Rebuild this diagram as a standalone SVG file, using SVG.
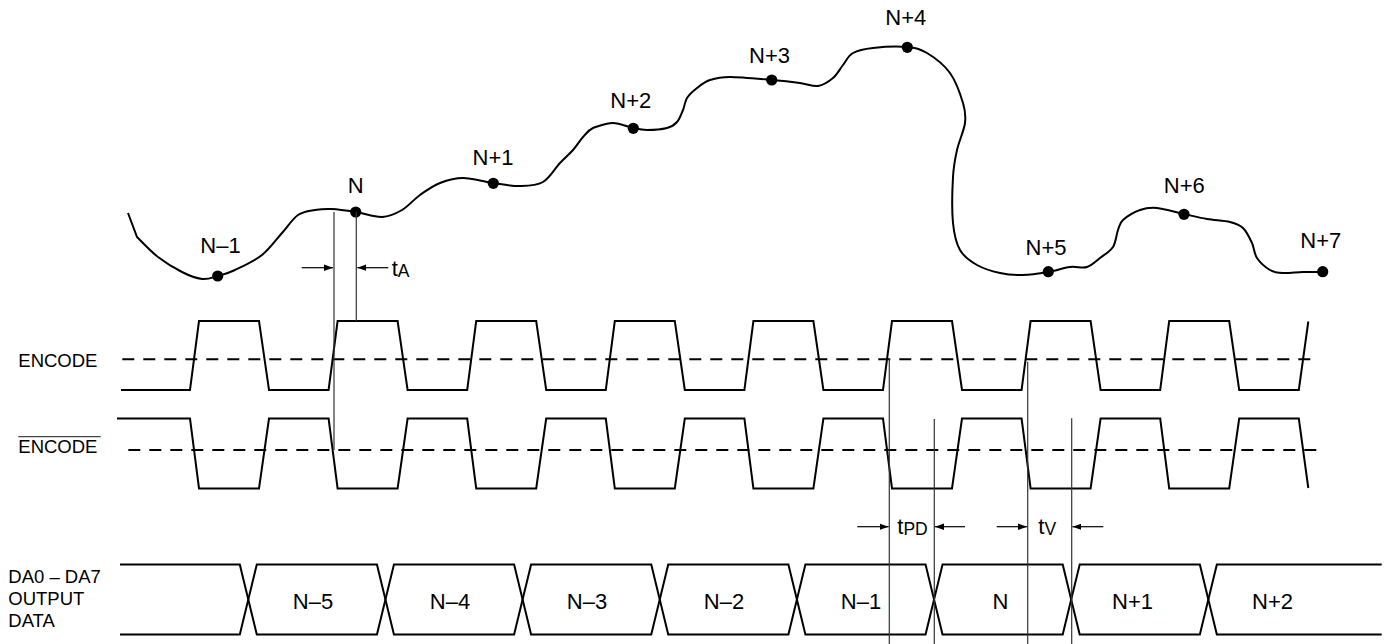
<svg xmlns="http://www.w3.org/2000/svg" width="1389" height="644" viewBox="0 0 1389 644">
<style>
text{font-family:"Liberation Sans",Arial,sans-serif;fill:#000}
.lbl{font-size:18.5px}
.nl{font-size:22px;text-anchor:middle}
.wave{fill:none;stroke:#000;stroke-width:2;stroke-linejoin:miter}
.dash{fill:none;stroke:#000;stroke-width:2;stroke-dasharray:12 9}
.guide{fill:none;stroke:#333;stroke-width:1.2}
.arr{fill:none;stroke:#000;stroke-width:1.2;marker-end:url(#ah)}
.tm{font-size:22px}
.sub{font-size:17.5px}
</style>
<defs>
<marker id="ah" markerUnits="userSpaceOnUse" markerWidth="10" markerHeight="8" refX="9" refY="4" orient="auto">
<path d="M0,0.8 L9,4 L0,7.2 Z" fill="#000"/>
</marker>
</defs>
<g id="analog-input">
<path class="wave" d="M128,213 L137,237 C140.5,240.3 150.5,251.2 158,257 C165.5,262.8 174.7,268.3 182,272 C189.3,275.7 196,278.3 202,279 C208,279.7 212.5,277.5 218,276 C223.5,274.5 227.7,273.5 235,270 C242.3,266.5 254.2,261.2 262,255 C269.8,248.8 276,239.7 282,233 C288,226.3 292.5,218.8 298,215 C303.5,211.2 309.3,211 315,210 C320.7,209 325.2,208.7 332,209 C338.8,209.3 347.7,210.7 356,212 C364.3,213.3 374.3,217.3 382,217 C389.7,216.7 395.7,213.7 402,210 C408.3,206.3 413.7,199.5 420,195 C426.3,190.5 432.8,185.8 440,183 C447.2,180.2 454.2,178 463,178 C471.8,178 483.5,181.7 493,183 C502.5,184.3 511.7,186.2 520,186 C528.3,185.8 536.3,185.8 543,182 C549.7,178.2 555,168.3 560,163 C565,157.7 569.2,154.3 573,150 C576.8,145.7 579.7,140.7 583,137 C586.3,133.3 588,130.3 593,128 C599.7,125.7 606.3,123 613,123 C619.7,123 627.3,126.8 633,128 C638.7,129.2 641.3,130 647,130 C652.7,130 662,129.3 667,128 C672,126.7 674.3,125 677,122 C679.7,119 681.3,114 683,110 C684.7,106 684.7,101.7 687,98 C689.3,94.3 693.2,91 697,88 C700.8,85 704.5,81.8 710,80 C715.5,78.2 719.7,77 730,77 C740.3,77 760.3,79 772,80 C783.7,81 792.3,82 800,83 C807.7,84 812.5,86.8 818,86 C823.5,85.2 828.8,81.5 833,78 C837.2,74.5 839.7,69.2 843,65 C846.3,60.8 848,55.8 853,53 C858,50.2 864,49 873,48 C882,47 898,46.2 907,47 C916,47.8 919.8,48.7 927,53 C934.2,57.3 944,64.7 950,73 C956,81.3 960.5,94.7 963,103 C965.5,111.3 966,115.2 965,123 C964,130.8 959,141 957,150 C955,159 953.7,164.8 953,177 C952.3,189.2 951.8,210.8 953,223 C954.2,235.2 956,243 960,250 C964,257 970.3,261.2 977,265 C983.7,268.8 992.3,271.3 1000,273 C1007.7,274.7 1015,275.2 1023,275 C1031,274.8 1040.2,273.3 1048,272 C1055.8,270.7 1063.5,267.8 1070,267 C1076.5,266.2 1082,268.5 1087,267 C1092,265.5 1095.7,261.3 1100,258 C1104.3,254.7 1110,251.7 1113,247 C1116,242.3 1116.3,234.5 1118,230 C1119.7,225.5 1119.3,223.3 1123,220 C1126.7,216.7 1134.3,212 1140,210 C1145.7,208 1149.7,207.3 1157,208 C1164.3,208.7 1175.7,212.2 1184,214 C1192.3,215.8 1199.3,217.7 1207,219 C1214.7,220.3 1224,220.5 1230,222 C1236,223.5 1239.3,224.5 1243,228 C1246.7,231.5 1249.7,238 1252,243 C1254.3,248 1254,253.5 1257,258 C1260,262.5 1265.7,267.5 1270,270 C1274.3,272.5 1277.5,272.7 1283,273 C1288.5,273.3 1296.3,272.2 1303,272 C1309.7,271.8 1319.7,272 1323,272"/>
</g>
<g id="samples">
<circle cx="217.7" cy="276" r="5.6"/>
<circle cx="355.7" cy="212" r="5.6"/>
<circle cx="493.3" cy="183.3" r="5.6"/>
<circle cx="633.3" cy="128.3" r="5.6"/>
<circle cx="771.7" cy="80" r="5.6"/>
<circle cx="907.3" cy="47.3" r="5.6"/>
<circle cx="1048.3" cy="271.7" r="5.6"/>
<circle cx="1184" cy="214.3" r="5.6"/>
<circle cx="1322.7" cy="271.7" r="5.6"/>
<text class="nl" x="220.5" y="252.7">N–1</text>
<text class="nl" x="355.7" y="192.7">N</text>
<text class="nl" x="493" y="165">N+1</text>
<text class="nl" x="630.8" y="108.3">N+2</text>
<text class="nl" x="769.5" y="62.7">N+3</text>
<text class="nl" x="905.8" y="25">N+4</text>
<text class="nl" x="1046" y="255">N+5</text>
<text class="nl" x="1184.3" y="192.7">N+6</text>
<text class="nl" x="1320.8" y="248.3">N+7</text>
</g>
<g id="encode">
<text class="lbl" x="18.3" y="367.3">ENCODE</text>
<path class="dash" d="M122.3,359.3 H1317"/>
<path class="wave" d="M121,390 H190 L199,321 H259 L269,390 H328.6 L337.6,321 H397.6 L407.6,390 H467.2 L476.2,321 H536.2 L546.2,390 H605.8 L614.8,321 H674.8 L684.8,390 H744.4 L753.4,321 H813.4 L823.4,390 H883 L892,321 H952 L962,390 H1021.6 L1030.6,321 H1090.6 L1100.6,390 H1160.2 L1169.2,321 H1229.2 L1239.2,390 H1298.8 L1308.3,321.5"/>
</g>
<g id="encode-bar">
<text class="lbl" x="18.3" y="453.3">ENCODE</text>
<path d="M18.3,436.7 H100.7" stroke="#444" stroke-width="1.3" fill="none"/>
<path class="dash" d="M128.3,450 H1323"/>
<path class="wave" d="M117,418.5 H190 L199,488.5 H259 L269,418.5 H328.6 L337.6,488.5 H397.6 L407.6,418.5 H467.2 L476.2,488.5 H536.2 L546.2,418.5 H605.8 L614.8,488.5 H674.8 L684.8,418.5 H744.4 L753.4,488.5 H813.4 L823.4,418.5 H883 L892,488.5 H952 L962,418.5 H1021.6 L1030.6,488.5 H1090.6 L1100.6,418.5 H1160.2 L1169.2,488.5 H1229.2 L1239.2,418.5 H1298.8 L1308.3,488"/>
</g>
<g id="output-data">
<text class="lbl" x="8.3" y="582.7">DA0 – DA7</text>
<text class="lbl" x="8.3" y="605">OUTPUT</text>
<text class="lbl" x="8.3" y="627.3">DATA</text>
<path class="wave" d="M120,564.5 H239.8 L256.8,634.5 H376.95 L393.95,564.5 H514.1 L531.1,634.5 H651.25 L668.25,564.5 H788.4 L805.4,634.5 H925.55 L942.55,564.5 H1062.7 L1079.7,634.5 H1199.85 L1216.85,564.5 H1381.7"/>
<path class="wave" d="M120,634.5 H239.8 L256.8,564.5 H376.95 L393.95,634.5 H514.1 L531.1,564.5 H651.25 L668.25,634.5 H788.4 L805.4,564.5 H925.55 L942.55,634.5 H1062.7 L1079.7,564.5 H1199.85 L1216.85,634.5 H1381.7"/>
<text class="nl" x="313" y="609">N–5</text>
<text class="nl" x="450" y="609">N–4</text>
<text class="nl" x="587" y="609">N–3</text>
<text class="nl" x="724" y="609">N–2</text>
<text class="nl" x="861" y="609">N–1</text>
<text class="nl" x="1000.5" y="609">N</text>
<text class="nl" x="1132.5" y="609">N+1</text>
<text class="nl" x="1272.5" y="609">N+2</text>
</g>
<g id="connectors">
<path class="guide" d="M334,212 V450 M356.3,212 V321 M889.3,359 V644 M934.3,419 V644 M1027.7,361.7 V644 M1071.7,418.3 V644"/>
<line class="arr" x1="301.7" y1="267.7" x2="333" y2="267.7"/>
<line class="arr" x1="388.3" y1="267.7" x2="357.3" y2="267.7"/>
<line class="arr" x1="857.3" y1="526.7" x2="888.6" y2="526.7"/>
<line class="arr" x1="965" y1="526.7" x2="935" y2="526.7"/>
<line class="arr" x1="996.7" y1="526.7" x2="1027" y2="526.7"/>
<line class="arr" x1="1103.3" y1="526.7" x2="1072.4" y2="526.7"/>
</g>
<g id="timing-labels">
<text class="tm" x="391.7" y="276">t<tspan class="sub" dy="1.3">A</tspan></text>
<text class="tm" x="897.3" y="533.5">t<tspan class="sub" dy="1.5">PD</tspan></text>
<text class="tm" x="1038.3" y="533.5">t<tspan class="sub" dy="1.5">V</tspan></text>
</g>
</svg>
